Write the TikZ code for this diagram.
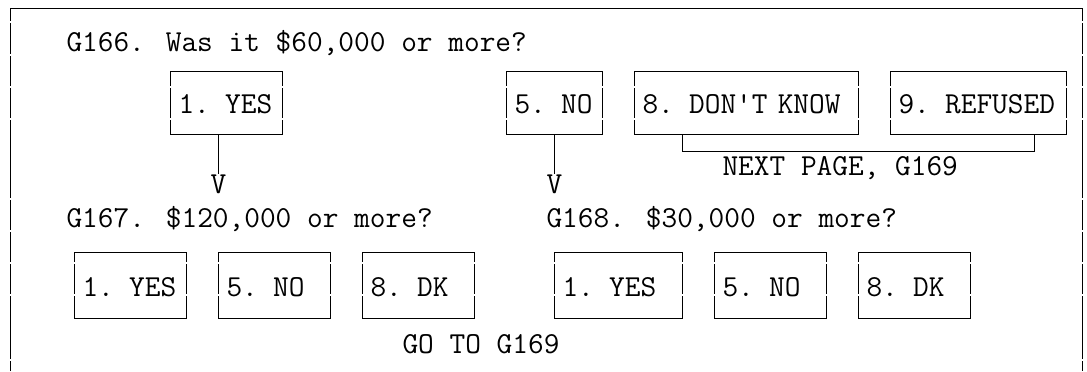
\documentclass[tikz,border=0pt]{standalone}
\usepackage{fontspec}
\usetikzlibrary{calc}

\tikzset{
  optbox/.style={draw, anchor=north west, inner xsep=6pt, inner ysep=0pt, align=left, text height=31.5pt, text depth=16pt},
  lowbox/.style={optbox, text height=33.4pt, text depth=16.5pt},
  qtext/.style={anchor=base west, inner sep=0pt},
  gap/.style={white, line width=1.2pt}
}

\begin{document}
\begin{tikzpicture}[x=0.75pt, y=-0.75pt, font=\fontsize{22.86}{27}\selectfont\ttfamily, line width=0.75pt]
\useasboundingbox (0,0) rectangle (1087,371);
% frame, open at the bottom
\draw (10,371) -- (10,8) -- (1082,8) -- (1082,371);

% G166
\node[qtext] (q166) at (66,51) {G166. Was it \$60,000 or more?};
\node[optbox, text width=72pt] (yes1) at (170,71) {1. YES};
\node[optbox, text width=60pt] (no1) at (506,71) {5. NO};
\node[optbox, text width=156pt] (dk1) at (634,71) {8. DON'T KNOW};
\node[optbox, text width=120pt] (ref1) at (890,71) {9. REFUSED};

\node[qtext] (v1) at (210,193) {V};
\node[qtext] (v2) at (546,193) {V};
\draw (v1 |- yes1.south) -- (v1.north);
\draw (v2 |- no1.south) -- (v2.north);

\draw ($(dk1.south west)+(48,0)$) |- ($(ref1.south west)+(144,16.5)$) -- ($(ref1.south west)+(144,0)$);
\node[qtext] (next) at (722,175) {NEXT PAGE, G169};

% G167 and G168
\node[qtext] (q167) at (66,227) {G167. \$120,000 or more?};
\node[qtext] (q168) at (546,227) {G168. \$30,000 or more?};
\node[lowbox, text width=72pt] (yes2) at (74,251.5) {1. YES};
\node[lowbox, text width=72pt] (no2) at (218,251.5) {5. NO};
\node[lowbox, text width=72pt] (dk2) at (362,251.5) {8. DK};
\node[lowbox, text width=84pt] (yes3) at (554,251.5) {1. YES};
\node[lowbox, text width=72pt] (no3) at (714,251.5) {5. NO};
\node[lowbox, text width=72pt] (dk3) at (858,251.5) {8. DK};

\node[qtext] (goto) at (402,353) {GO TO G169};

% breaks in the vertical rules
\foreach \g in {22,55,87,119,199,231,263,295,360} {
  \draw[gap] (8,\g) -- ++(4,0);
  \draw[gap] (1080,\g) -- ++(4,0);
}
\foreach \b in {yes1,no1,dk1,ref1} \foreach \g in {87,119} {
  \draw[gap] (\b.west |- 0,\g) ++(-2,0) -- ++(4,0);
  \draw[gap] (\b.east |- 0,\g) ++(-2,0) -- ++(4,0);
}
\foreach \b in {yes2,no2,dk2,yes3,no3,dk3} \foreach \g in {263,295} {
  \draw[gap] (\b.west |- 0,\g) ++(-2,0) -- ++(4,0);
  \draw[gap] (\b.east |- 0,\g) ++(-2,0) -- ++(4,0);
}
\end{tikzpicture}
\end{document}
